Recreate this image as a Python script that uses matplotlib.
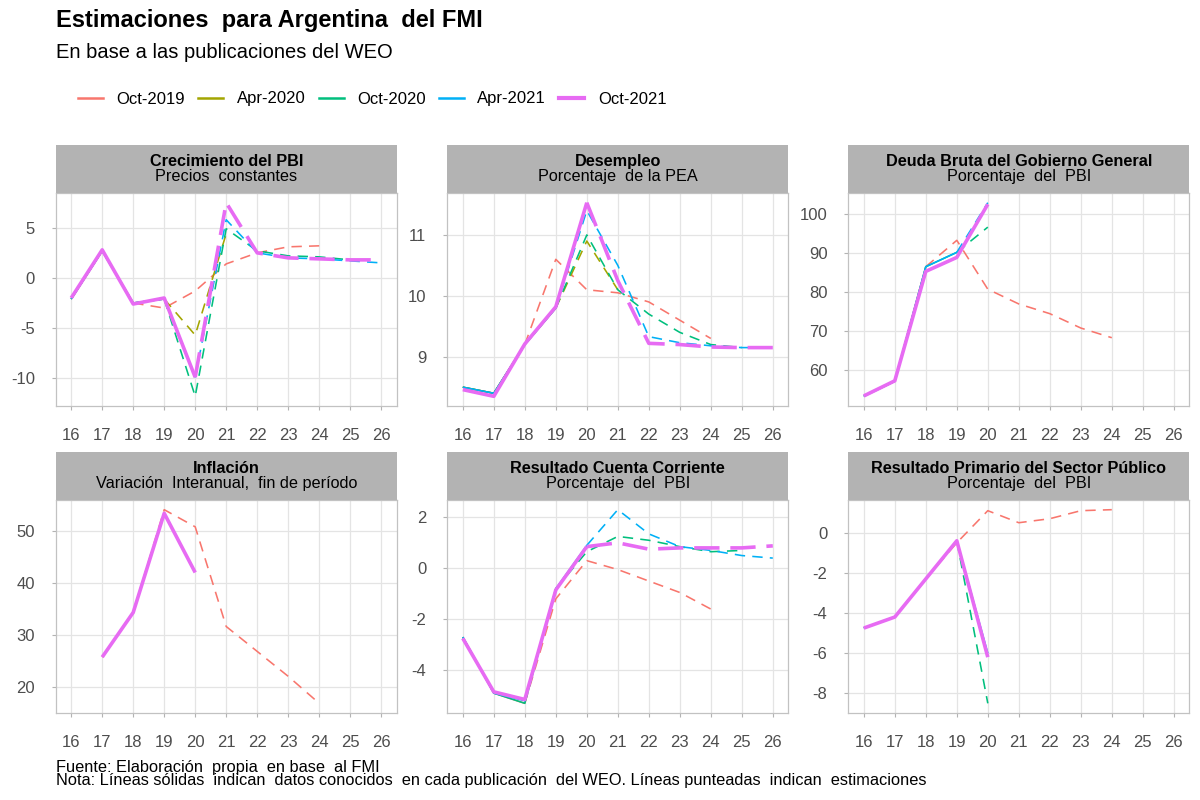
import numpy as np
import matplotlib.pyplot as plt
from matplotlib.lines import Line2D

plt.rcParams['font.family'] = ['Liberation Sans', 'DejaVu Sans']
plt.rcParams['axes.unicode_minus'] = False

nan = np.nan
years = [16, 17, 18, 19, 20, 21, 22, 23, 24, 25, 26]
vintages = ["Oct-2019", "Apr-2020", "Oct-2020", "Apr-2021", "Oct-2021"]
colors = ["#F8766D", "#A3A500", "#00BF7D", "#00B0F6", "#E76BF3"]

# Crecimiento del PBI (precios constantes)
pbi_oct19 = [-2.1, 2.7, -2.5, -3.0, -1.3, 1.4, 2.5, 3.1, 3.2, nan, nan]
pbi_apr20 = [-2.1, 2.7, -2.5, -2.1, -5.7, 4.4, nan, nan, nan, nan, nan]
pbi_oct20 = [-2.1, 2.7, -2.5, -2.1, -11.8, 4.9, 2.7, 2.2, 2.1, 1.8, nan]
pbi_apr21 = [-2.1, 2.7, -2.5, -2.1, -9.9, 5.8, 2.5, 2.0, 1.9, 1.7, 1.5]
pbi_oct21 = [-2.0, 2.8, -2.6, -2.0, -9.9, 7.5, 2.5, 2.0, 1.9, 1.8, 1.8]
pbi_known = [18, 19, 19, 20, 20]

# Desempleo (porcentaje de la PEA)
des_oct19 = [8.5, 8.4, 9.2, 10.6, 10.1, 10.05, 9.9, 9.6, 9.3, nan, nan]
des_apr20 = [8.5, 8.4, 9.2, 9.8, 10.9, 10.1, nan, nan, nan, nan, nan]
des_oct20 = [8.5, 8.4, 9.2, 9.8, 11.0, 10.1, 9.7, 9.4, 9.2, 9.15, nan]
des_apr21 = [8.5, 8.4, 9.2, 9.8, 11.4, 10.5, 9.33, 9.23, 9.18, 9.15, 9.15]
des_oct21 = [8.46, 8.35, 9.21, 9.82, 11.53, 10.25, 9.22, 9.2, 9.16, 9.15, 9.15]
des_known = [18, 19, 19, 19, 20]

# Deuda bruta del gobierno general (% del PBI)
deu_oct19 = [53.1, 57.0, 86.5, 93.3, 80.7, 76.9, 74.4, 70.7, 68.2, nan, nan]
deu_oct20 = [53.1, 57.0, 86.5, 90.2, 96.7, nan, nan, nan, nan, nan, nan]
deu_apr21 = [53.1, 57.0, 86.5, 90.2, 103.0, nan, nan, nan, nan, nan, nan]
deu_oct21 = [53.2, 57.1, 85.3, 88.9, 102.6, nan, nan, nan, nan, nan, nan]
deu_known = [18, 19, 19, 19, 20]

# Inflacion (variacion interanual, fin de periodo)
inf_oct19 = [nan, 25.8, 34.4, 54.2, 50.9, 31.7, 26.9, 22.1, 16.9, nan, nan]
inf_oct21 = [nan, 25.8, 34.4, 53.5, 42.1, nan, nan, nan, nan, nan, nan]
inf_known = [18, 19, 19, 20, 20]

# Resultado cuenta corriente (% del PBI)
cc_oct19 = [-2.7, -4.9, -5.3, -1.2, 0.3, -0.05, -0.5, -0.95, -1.6, nan, nan]
cc_oct20 = [-2.7, -4.9, -5.3, -0.8, 0.65, 1.25, 1.1, 0.85, 0.65, 0.7, nan]
cc_apr21 = [-2.7, -4.9, -5.2, -0.8, 0.9, 2.3, 1.35, 0.85, 0.7, 0.5, 0.4]
cc_oct21 = [-2.75, -4.85, -5.15, -0.85, 0.85, 1.0, 0.75, 0.8, 0.8, 0.8, 0.88]
cc_known = [18, 19, 19, 20, 20]

# Resultado primario del sector publico (% del PBI)
pri_oct19 = [-4.75, -4.2, -2.3, -0.5, 1.1, 0.5, 0.7, 1.1, 1.15, nan, nan]
pri_oct20 = [-4.75, -4.2, -2.3, -0.4, -8.5, nan, nan, nan, nan, nan, nan]
pri_apr21 = [-4.75, -4.2, -2.3, -0.4, -6.0, nan, nan, nan, nan, nan, nan]
pri_oct21 = [-4.75, -4.2, -2.3, -0.4, -6.2, nan, nan, nan, nan, nan, nan]
pri_known = [18, 19, 19, 20, 20]

panels = [
    ("Crecimiento del PBI", "Precios  constantes",
     [pbi_oct19, pbi_apr20, pbi_oct20, pbi_apr21, pbi_oct21], pbi_known, [-10, -5, 0, 5]),
    ("Desempleo", "Porcentaje  de la PEA",
     [des_oct19, des_apr20, des_oct20, des_apr21, des_oct21], des_known, [9, 10, 11]),
    ("Deuda Bruta del Gobierno General", "Porcentaje  del  PBI",
     [deu_oct19, None, deu_oct20, deu_apr21, deu_oct21], deu_known, [60, 70, 80, 90, 100]),
    ("Inflación", "Variación  Interanual,  fin de período",
     [inf_oct19, None, None, None, inf_oct21], inf_known, [20, 30, 40, 50]),
    ("Resultado Cuenta Corriente", "Porcentaje  del  PBI",
     [cc_oct19, None, cc_oct20, cc_apr21, cc_oct21], cc_known, [-4, -2, 0, 2]),
    ("Resultado Primario del Sector Público", "Porcentaje  del  PBI",
     [pri_oct19, None, pri_oct20, pri_apr21, pri_oct21], pri_known, [-8, -6, -4, -2, 0]),
]

W, H = 1200, 800
fig = plt.figure(figsize=(12, 8), dpi=100)

col_left = [55.7, 447.3, 848.3]
panel_w = 341
row_top = [193, 500]
panel_h = 213
strip_h = 48

for n, (title, sub, series, known, yticks) in enumerate(panels):
    r, c = divmod(n, 3)
    x0 = col_left[c]
    top = row_top[r]
    ax = fig.add_axes([x0 / W, 1 - (top + panel_h) / H, panel_w / W, panel_h / H])
    st = fig.add_axes([x0 / W, 1 - top / H, panel_w / W, strip_h / H])

    # strip
    st.set_facecolor("#B3B3B3")
    st.set_xticks([])
    st.set_yticks([])
    for s in st.spines.values():
        s.set_visible(False)
    st.text(0.5, 0.5625, title, ha='center', va='baseline', fontsize=11.7,
            fontweight='bold', transform=st.transAxes)
    st.text(0.5, 0.25, sub, ha='center', va='baseline', fontsize=11.7,
            transform=st.transAxes)

    x = np.array(years)
    for i, vals in enumerate(series):
        if vals is None:
            continue
        y = np.array(vals, dtype=float)
        big = vintages[i] == "Oct-2021"
        lw = 2.6 if big else 1.15
        dash = (7, 3.0) if big else (6.5, 4.5)
        k = known[i]
        ax.plot(x[x <= k], y[x <= k], color=colors[i], lw=lw,
                solid_capstyle='butt', zorder=2 + i)
        ax.plot(x[x >= k], y[x >= k], color=colors[i], lw=lw,
                dashes=dash, dash_capstyle='butt', zorder=2 + i)

    ylim = ax.get_ylim()
    ax.set_xlim(15.5, 26.5)
    ax.set_xticks(years)
    ax.set_yticks(yticks)
    ax.set_ylim(ylim)
    ax.grid(True, color="#E4E4E4", lw=0.9)
    ax.set_axisbelow(True)
    for s in ax.spines.values():
        s.set_color("#C2C2C2")
        s.set_linewidth(0.9)
    ax.tick_params(axis='both', color="#B3B3B3", length=3, width=0.8,
                   labelsize=12, labelcolor="#4D4D4D")
    ax.tick_params(axis='x', pad=12.5)
    ax.tick_params(axis='y', pad=12)

# title, subtitle
fig.text(56 / W, 1 - 27 / H, "Estimaciones  para Argentina  del FMI",
         fontsize=17, fontweight='bold', va='baseline')
fig.text(56 / W, 1 - 58 / H, "En base a las publicaciones del WEO",
         fontsize=14.5, va='baseline')

# legend (solid keys)
handles = [Line2D([], [], color=colors[i], linestyle='-', lw=(3.0 if i == 4 else 1.8))
           for i in range(len(vintages))]
fig.legend(handles, vintages, loc='center left', bbox_to_anchor=(78 / W, 1 - 99 / H),
           ncol=5, frameon=False, fontsize=12, borderpad=0, borderaxespad=0,
           handlelength=1.5, handletextpad=0.8, columnspacing=0.8)

# caption
fig.text(56 / W, 1 - 772 / H, "Fuente: Elaboración  propia  en base  al FMI",
         fontsize=11.8, va='baseline')
fig.text(56 / W, 1 - 785 / H,
         "Nota: Líneas sólidas  indican  datos conocidos  en cada publicación  del WEO. "
         "Líneas punteadas  indican  estimaciones",
         fontsize=11.8, va='baseline')

fig.savefig("out.png", dpi=100)
